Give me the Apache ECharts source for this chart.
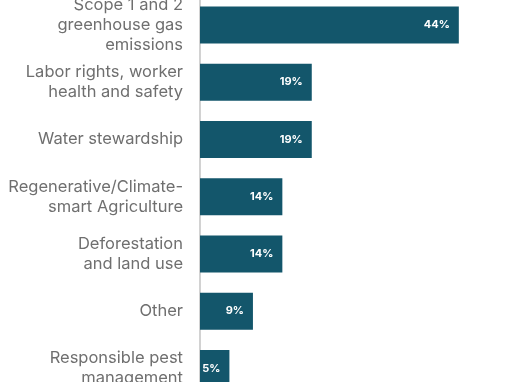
<!DOCTYPE html>
<html>
<head>
<meta charset="utf-8">
<style>html,body{margin:0;padding:0;background:#fff;overflow:hidden}#c{position:absolute;left:0;top:-5px;width:510px;height:402px}</style>
<script src="https://cdn.jsdelivr.net/npm/echarts@6/dist/echarts.min.js"></script>
</head>
<body>
<div id="c"></div>
<script>
const categories = [
  "Scope 1 and 2\ngreenhouse gas\nemissions",
  "Labor rights, worker\nhealth and safety",
  "Water stewardship",
  "Regenerative/Climate-\nsmart Agriculture",
  "Deforestation\nand land use",
  "Other",
  "Responsible pest\nmanagement"
];
const values = [44, 19, 19, 14, 14, 9, 5];

const chart = echarts.init(document.getElementById('c'), null, {renderer: 'canvas'});
chart.setOption({
  animation: false,
  grid: {left: 200, right: 10, top: 0, bottom: 0},
  xAxis: {
    type: 'value', min: 0, max: 51,
    show: false, splitLine: {show: false}
  },
  yAxis: {
    type: 'category', data: categories, inverse: true,
    axisLine: {show: true, lineStyle: {color: '#d2d2d2', width: 2}},
    axisTick: {show: false},
    axisLabel: {
      margin: 17, color: '#6f6f6f', fontFamily: 'Inter', fontSize: 16.5,
      lineHeight: 20, align: 'right'
    }
  },
  series: [{
    type: 'bar', data: values, barWidth: 37,
    itemStyle: {color: '#13566b'},
    label: {
      show: true, position: 'insideRight', distance: 9,
      color: '#ffffff', fontFamily: 'Inter', fontWeight: 'bold', fontSize: 11,
      formatter: p => p.value + '%'
    }
  }]
});
</script>
</body>
</html>
